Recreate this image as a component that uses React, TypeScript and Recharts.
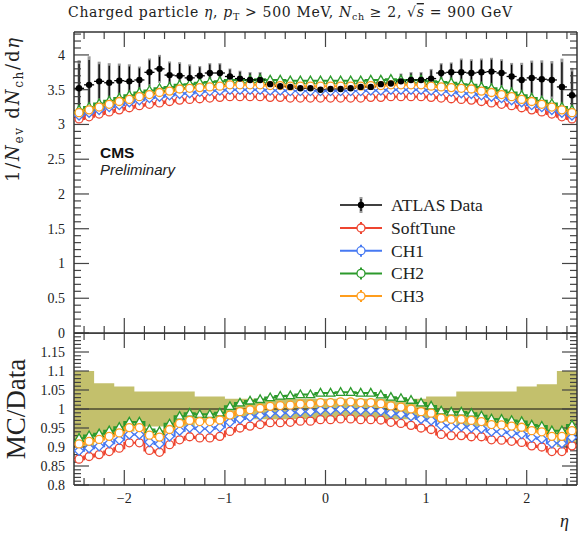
import React from 'react';
import { ComposedChart, Line, Scatter, XAxis, YAxis, ErrorBar, Area, ReferenceLine } from 'recharts';

// bin centres in eta (bin width 0.1)
const etaBins = [
  -2.45, -2.35, -2.25, -2.15, -2.05, -1.95, -1.85, -1.75, -1.65, -1.55, -1.45, -1.35, -1.25,
  -1.15, -1.05, -0.95, -0.85, -0.75, -0.65, -0.55, -0.45, -0.35, -0.25, -0.15, -0.05,
  0.05, 0.15, 0.25, 0.35, 0.45, 0.55, 0.65, 0.75, 0.85, 0.95, 1.05, 1.15, 1.25,
  1.35, 1.45, 1.55, 1.65, 1.75, 1.85, 1.95, 2.05, 2.15, 2.25, 2.35, 2.45,
];

const atlasData = [
  3.52, 3.57, 3.62, 3.60, 3.63, 3.62, 3.64, 3.75, 3.80, 3.71, 3.70, 3.67, 3.70, 3.74, 3.74, 3.69, 3.66, 3.64, 3.64, 3.58, 3.55, 3.54, 3.52, 3.52, 3.50,
  3.51, 3.51, 3.52, 3.54, 3.54, 3.58, 3.59, 3.62, 3.64, 3.64, 3.66, 3.74, 3.75, 3.75, 3.74, 3.75, 3.76, 3.74, 3.69, 3.64, 3.67, 3.65, 3.64, 3.54, 3.42,
];

// relative uncertainty of the data (also the yellow band in the ratio)
const atlasRelErr = [
  0.1, 0.1, 0.068, 0.068, 0.059, 0.059, 0.046, 0.046, 0.046, 0.046, 0.046, 0.046, 0.033, 0.033, 0.033,
  0.027, 0.027, 0.027, 0.027, 0.027, 0.027, 0.027, 0.027, 0.027, 0.027,
  0.027, 0.027, 0.027, 0.027, 0.027, 0.027, 0.027, 0.027, 0.027, 0.027,
  0.033, 0.033, 0.033, 0.046, 0.046, 0.046, 0.046, 0.046, 0.046, 0.059, 0.059, 0.065, 0.065, 0.1, 0.1,
];

const softTune = [
  3.08, 3.11, 3.15, 3.18, 3.21, 3.24, 3.27, 3.29, 3.31, 3.33, 3.35, 3.36, 3.37, 3.38, 3.39, 3.40, 3.40, 3.40, 3.40, 3.39, 3.39, 3.38, 3.38, 3.38, 3.38,
  3.38, 3.38, 3.38, 3.38, 3.39, 3.39, 3.40, 3.40, 3.40, 3.40, 3.39, 3.38, 3.37, 3.36, 3.35, 3.33, 3.31, 3.29, 3.27, 3.24, 3.21, 3.18, 3.15, 3.11, 3.08,
];
const ch1 = [
  3.13, 3.17, 3.21, 3.25, 3.28, 3.32, 3.35, 3.38, 3.40, 3.42, 3.44, 3.45, 3.47, 3.48, 3.49, 3.50, 3.50, 3.50, 3.50, 3.49, 3.49, 3.48, 3.48, 3.48, 3.48,
  3.48, 3.48, 3.48, 3.48, 3.49, 3.49, 3.50, 3.50, 3.50, 3.50, 3.49, 3.48, 3.47, 3.45, 3.44, 3.42, 3.40, 3.38, 3.35, 3.32, 3.28, 3.25, 3.21, 3.17, 3.13,
];
const ch2 = [
  3.21, 3.25, 3.30, 3.34, 3.38, 3.42, 3.46, 3.49, 3.52, 3.54, 3.57, 3.58, 3.60, 3.61, 3.62, 3.64, 3.64, 3.64, 3.65, 3.64, 3.64, 3.63, 3.63, 3.63, 3.63,
  3.63, 3.63, 3.63, 3.63, 3.64, 3.64, 3.65, 3.64, 3.64, 3.64, 3.62, 3.61, 3.60, 3.58, 3.57, 3.54, 3.52, 3.49, 3.46, 3.42, 3.38, 3.34, 3.30, 3.25, 3.21,
];
const ch3 = [
  3.17, 3.21, 3.25, 3.29, 3.33, 3.36, 3.40, 3.43, 3.46, 3.48, 3.51, 3.52, 3.53, 3.54, 3.55, 3.57, 3.57, 3.57, 3.57, 3.56, 3.56, 3.55, 3.55, 3.55, 3.55,
  3.55, 3.55, 3.55, 3.55, 3.56, 3.56, 3.57, 3.57, 3.57, 3.57, 3.55, 3.54, 3.53, 3.52, 3.51, 3.48, 3.46, 3.43, 3.40, 3.36, 3.33, 3.29, 3.25, 3.21, 3.17,
];

// MC / Data
const softTuneRatio = [
  0.868, 0.875, 0.88, 0.888, 0.897, 0.911, 0.911, 0.891, 0.886, 0.906, 0.919, 0.927, 0.924, 0.924, 0.928, 0.941, 0.95, 0.955, 0.959, 0.964, 0.964, 0.965, 0.968, 0.968, 0.972,
  0.972, 0.974, 0.974, 0.972, 0.972, 0.971, 0.965, 0.962, 0.957, 0.95, 0.946, 0.933, 0.93, 0.93, 0.927, 0.927, 0.919, 0.918, 0.915, 0.912, 0.903, 0.9, 0.888, 0.888, 0.903,
];
const ch1Ratio = [
  0.89, 0.897, 0.902, 0.91, 0.919, 0.933, 0.933, 0.913, 0.908, 0.928, 0.943, 0.951, 0.948, 0.948, 0.952, 0.965, 0.974, 0.979, 0.983, 0.988, 0.989, 0.99, 0.993, 0.993, 0.997,
  0.997, 0.999, 0.999, 0.997, 0.997, 0.995, 0.989, 0.986, 0.981, 0.974, 0.97, 0.957, 0.954, 0.954, 0.951, 0.949, 0.941, 0.94, 0.937, 0.934, 0.925, 0.922, 0.91, 0.91, 0.925,
];
const ch2Ratio = [
  0.923, 0.93, 0.935, 0.943, 0.952, 0.966, 0.966, 0.946, 0.941, 0.961, 0.981, 0.989, 0.986, 0.986, 0.99, 1.007, 1.016, 1.021, 1.025, 1.03, 1.034, 1.035, 1.038, 1.038, 1.042,
  1.042, 1.044, 1.044, 1.042, 1.042, 1.037, 1.031, 1.028, 1.023, 1.016, 1.008, 0.995, 0.992, 0.992, 0.989, 0.982, 0.974, 0.973, 0.97, 0.967, 0.958, 0.955, 0.943, 0.943, 0.958,
];
const ch3Ratio = [
  0.908, 0.915, 0.92, 0.928, 0.937, 0.951, 0.951, 0.931, 0.926, 0.946, 0.962, 0.97, 0.967, 0.967, 0.971, 0.984, 0.993, 0.998, 1.002, 1.007, 1.009, 1.01, 1.013, 1.013, 1.017,
  1.017, 1.019, 1.019, 1.017, 1.017, 1.014, 1.008, 1.005, 1.0, 0.993, 0.989, 0.976, 0.973, 0.973, 0.97, 0.967, 0.959, 0.958, 0.955, 0.952, 0.943, 0.94, 0.928, 0.928, 0.943,
];

const series = [
  { key: 'softTune', name: 'SoftTune', color: '#ee4530', shape: 'circle', upper: softTune, ratio: softTuneRatio },
  { key: 'ch1', name: 'CH1', color: '#4679f2', shape: 'diamond', upper: ch1, ratio: ch1Ratio },
  { key: 'ch2', name: 'CH2', color: '#2c9a2c', shape: 'triangle', upper: ch2, ratio: ch2Ratio },
  { key: 'ch3', name: 'CH3', color: '#ff9d1c', shape: 'circle', upper: ch3, ratio: ch3Ratio },
];

const xMajor = [-2, -1, 0, 1, 2];
const upperYMajor = [0, 0.5, 1, 1.5, 2, 2.5, 3, 3.5, 4];
const ratioYMajor = [0.8, 0.85, 0.9, 0.95, 1, 1.05, 1.1, 1.15];

const steps = (from: number, to: number, step: number) => {
  const out: number[] = [];
  for (let v = from; v <= to + 1e-9; v += step) out.push(Number(v.toFixed(3)));
  return out;
};
const xTicks = steps(-2.4, 2.4, 0.2);
const upperYTicks = steps(0, 4.3, 0.1);
const ratioYTicks = steps(0.8, 1.2, 0.01);

const X_DOMAIN = [-2.5, 2.5];
const UPPER_Y = [0, 4.33];
const RATIO_Y = [0.8, 1.2];
// plot sizes in px, used to turn tick lengths into data units
const PLOT_W = 503;
const UPPER_H = 301;
const RATIO_H = 152;

const upperData = etaBins.map((eta, i) => {
  const row: any = {
    eta,
    atlas: atlasData[i],
    err: atlasData[i] * atlasRelErr[i],
    errOuter: atlasData[i] * atlasRelErr[i] * 1.15,
    xerr: 0.05,
  };
  series.forEach((s) => { row[s.key] = s.upper[i]; });
  return row;
});

const ratioData = etaBins.map((eta, i) => {
  const row: any = { eta };
  series.forEach((s) => { row[s.key] = s.ratio[i]; });
  return row;
});

const bandData = [...etaBins.map((e) => e - 0.05), 2.5].map((eta, j) => {
  const e = atlasRelErr[Math.min(j, atlasRelErr.length - 1)];
  return { eta: Number(eta.toFixed(2)), band: [1 - e, 1 + e] };
});

const SERIF = '"Liberation Serif", "DejaVu Serif", serif';
const WIDE_SERIF = '"DejaVu Serif", "Liberation Serif", serif';
const SANS = '"Liberation Sans", Arial, sans-serif';
const TICK = '#444';
const FRAME = '#333';

const fmtNum = (v: number) => String(Number(v.toFixed(2))).replace('-', '\u2212');
const isMajor = (v: number, majors: number[]) => majors.some((m) => Math.abs(m - v) < 1e-6);

const TickLabel = ({ x, y, payload, side, majors, showLabels }: any) => {
  const v = payload.value;
  if (!showLabels || !isMajor(v, majors)) return <g />;
  if (side === 'left') {
    return <text x={x} y={y} dy="0.35em" textAnchor="end" fontFamily={SERIF} fontSize={14} fill="#222">{fmtNum(v)}</text>;
  }
  return <text x={x} y={y} dy="0.8em" textAnchor="middle" fontFamily={SERIF} fontSize={14} fill="#222">{fmtNum(v)}</text>;
};

const Marker = ({ cx, cy, shape, color }: any) => {
  if (cx == null || cy == null) return null;
  if (shape === 'triangle') {
    return <path d={`M${cx},${cy - 4.6}L${cx + 4.3},${cy + 3}L${cx - 4.3},${cy + 3}Z`} fill="#fff" stroke={color} strokeWidth={1.3} />;
  }
  if (shape === 'diamond') {
    return <path d={`M${cx},${cy - 4.6}L${cx + 4.6},${cy}L${cx},${cy + 4.6}L${cx - 4.6},${cy}Z`} fill="#fff" stroke={color} strokeWidth={1.3} />;
  }
  return <circle cx={cx} cy={cy} r={4} fill="#fff" stroke={color} strokeWidth={1.3} />;
};

const labelAxes = (yDomain: number[], yTicks: number[], yMajors: number[], bottomH: number, bottomLabels: boolean) => [
  <XAxis key="xb" dataKey="eta" type="number" domain={X_DOMAIN} ticks={xTicks} interval={0}
    height={bottomH} tickSize={0} tickMargin={7} tickLine={false} axisLine={false} allowDataOverflow
    tick={(p: any) => <TickLabel {...p} side="bottom" majors={xMajor} showLabels={bottomLabels} />} />,
  <YAxis key="yl" type="number" domain={yDomain} ticks={yTicks} interval={0} width={74}
    tickSize={0} tickMargin={9} tickLine={false} axisLine={false} allowDataOverflow
    tick={(p: any) => <TickLabel {...p} side="left" majors={yMajors} showLabels />} />,
];

// inward pointing ticks on all four sides plus the frame, drawn on the chart's own scales
const frameMarks = (yDomain: number[], yTicks: number[], yMajors: number[], plotH: number) => {
  const [y0, y1] = yDomain;
  const [x0, x1] = X_DOMAIN;
  const ux = (x1 - x0) / PLOT_W;
  const uy = (y1 - y0) / plotH;
  const out: any[] = [];
  xTicks.forEach((v) => {
    const len = (isMajor(v, xMajor) ? 15 : 7) * uy;
    out.push(<ReferenceLine key={`xb${v}`} ifOverflow="visible" stroke={TICK} strokeWidth={1.2}
      segment={[{ x: v, y: y0 }, { x: v, y: y0 + len }]} />);
    out.push(<ReferenceLine key={`xt${v}`} ifOverflow="visible" stroke={TICK} strokeWidth={1.2}
      segment={[{ x: v, y: y1 }, { x: v, y: y1 - len }]} />);
  });
  yTicks.forEach((v) => {
    const len = (isMajor(v, yMajors) ? 15 : 7) * ux;
    out.push(<ReferenceLine key={`yl${v}`} ifOverflow="visible" stroke={TICK} strokeWidth={1.2}
      segment={[{ x: x0, y: v }, { x: x0 + len, y: v }]} />);
    out.push(<ReferenceLine key={`yr${v}`} ifOverflow="visible" stroke={TICK} strokeWidth={1.2}
      segment={[{ x: x1, y: v }, { x: x1 - len, y: v }]} />);
  });
  out.push(<ReferenceLine key="fl" x={x0} ifOverflow="visible" stroke={FRAME} strokeWidth={1.5} />);
  out.push(<ReferenceLine key="fr" x={x1} ifOverflow="visible" stroke={FRAME} strokeWidth={1.5} />);
  out.push(<ReferenceLine key="fb" y={y0} ifOverflow="visible" stroke={FRAME} strokeWidth={1.5} />);
  out.push(<ReferenceLine key="ft" y={y1} ifOverflow="visible" stroke={FRAME} strokeWidth={1.5} />);
  return out;
};

const mcLines = () => series.map((s) => (
  <Line key={s.key} dataKey={s.key} stroke={s.color} strokeWidth={2} type="step" activeDot={false}
    isAnimationActive={false}
    dot={(p: any) => <Marker key={`${s.key}-${p.index}`} cx={p.cx} cy={p.cy} shape={s.shape} color={s.color} />} />
));

export default function App() {
  return (
    <div style={{ position: 'absolute', left: 0, top: 0, width: 580, height: 534, background: '#fff' }}>
      <div style={{ position: 'absolute', left: 0, top: 0 }}>
        <ComposedChart width={580} height={345} data={upperData} margin={{ top: 32, right: 3, bottom: 12, left: 0 }}>
          {labelAxes(UPPER_Y, upperYTicks, upperYMajor, 0, false)}
          {mcLines()}
          <Scatter dataKey="atlas" fill="#000" isAnimationActive={false}
            shape={(p: any) => <circle cx={p.cx} cy={p.cy} r={3.2} fill="#000" />}>
            <ErrorBar dataKey="errOuter" direction="y" width={0} stroke="#9a9a9a" strokeWidth={3} />
            <ErrorBar dataKey="err" direction="y" width={0} stroke="#000" strokeWidth={1.3} />
            <ErrorBar dataKey="xerr" direction="x" width={0} stroke="#000" strokeWidth={1.3} />
          </Scatter>
          {frameMarks(UPPER_Y, upperYTicks, upperYMajor, UPPER_H)}
        </ComposedChart>
      </div>
      <div style={{ position: 'absolute', left: 0, top: 333 }}>
        <ComposedChart width={580} height={186} data={ratioData} margin={{ top: 0, right: 3, bottom: 0, left: 0 }}>
          {labelAxes(RATIO_Y, ratioYTicks, ratioYMajor, 34, true)}
          <Area data={bandData} dataKey="band" type="stepAfter" fill="#c3c06c" fillOpacity={1} stroke="none"
            isAnimationActive={false} activeDot={false} />
          <ReferenceLine y={1} stroke="#111" strokeWidth={1} />
          {mcLines()}
          {frameMarks(RATIO_Y, ratioYTicks, ratioYMajor, RATIO_H)}
        </ComposedChart>
      </div>
      <svg width={580} height={534} style={{ position: 'absolute', left: 0, top: 0, pointerEvents: 'none' }}>
        <text x={68} y={17} fontFamily={WIDE_SERIF} fontSize={14} fill="#222" textLength={444} lengthAdjust="spacing">
          Charged particle <tspan fontStyle="italic">η</tspan>, <tspan fontStyle="italic">p</tspan>
          <tspan fontSize={9.5} dy={3}>T</tspan><tspan dy={-3}> &gt; 500 MeV, </tspan>
          <tspan fontStyle="italic">N</tspan><tspan fontSize={9.5} dy={3}>ch</tspan>
          <tspan dy={-3}> ≥ 2, √</tspan><tspan fontStyle="italic" textDecoration="overline">s</tspan> = 900 GeV
        </text>
        <text transform="translate(19,110) rotate(-90)" textAnchor="middle" fontFamily={WIDE_SERIF} fontSize={18} fill="#222"
          textLength={144} lengthAdjust="spacing">
          1/<tspan fontStyle="italic">N</tspan><tspan fontSize={12} dy={4}>ev</tspan>
          <tspan dy={-4}> d</tspan><tspan fontStyle="italic">N</tspan><tspan fontSize={12} dy={4}>ch</tspan>
          <tspan dy={-4}>/d</tspan><tspan fontStyle="italic">η</tspan>
        </text>
        <text transform="translate(25,409) rotate(-90)" textAnchor="middle" fontFamily={SERIF} fontSize={27} fill="#222">MC/Data</text>
        <text x={560} y={527} fontFamily={SERIF} fontStyle="italic" fontSize={18} fill="#222">η</text>
        <text x={100} y={158} fontFamily={SANS} fontWeight="bold" fontSize={15.5} fill="#111">CMS</text>
        <text x={100} y={175} fontFamily={SANS} fontStyle="italic" fontSize={15} fill="#222">Preliminary</text>
        <g>
          <line x1={340} x2={382} y1={205} y2={205} stroke="#000" strokeWidth={1.3} />
          <line x1={361} x2={361} y1={197} y2={213} stroke="#9a9a9a" strokeWidth={3} />
          <line x1={361} x2={361} y1={199} y2={211} stroke="#000" strokeWidth={1.3} />
          <circle cx={361} cy={205} r={3.2} fill="#000" />
          <text x={391} y={211} fontFamily={SERIF} fontSize={17.5} fill="#222">ATLAS Data</text>
        </g>
        {series.map((s, i) => {
          const cy = 228 + i * 22.7;
          return (
            <g key={s.key}>
              <line x1={340} x2={382} y1={cy} y2={cy} stroke={s.color} strokeWidth={2} />
              <line x1={361} x2={361} y1={cy - 6} y2={cy + 6} stroke={s.color} strokeWidth={2} />
              <Marker cx={361} cy={cy} shape="circle" color={s.color} />
              <text x={391} y={cy + 6} fontFamily={SERIF} fontSize={17.5} fill="#222">{s.name}</text>
            </g>
          );
        })}
      </svg>
    </div>
  );
}
